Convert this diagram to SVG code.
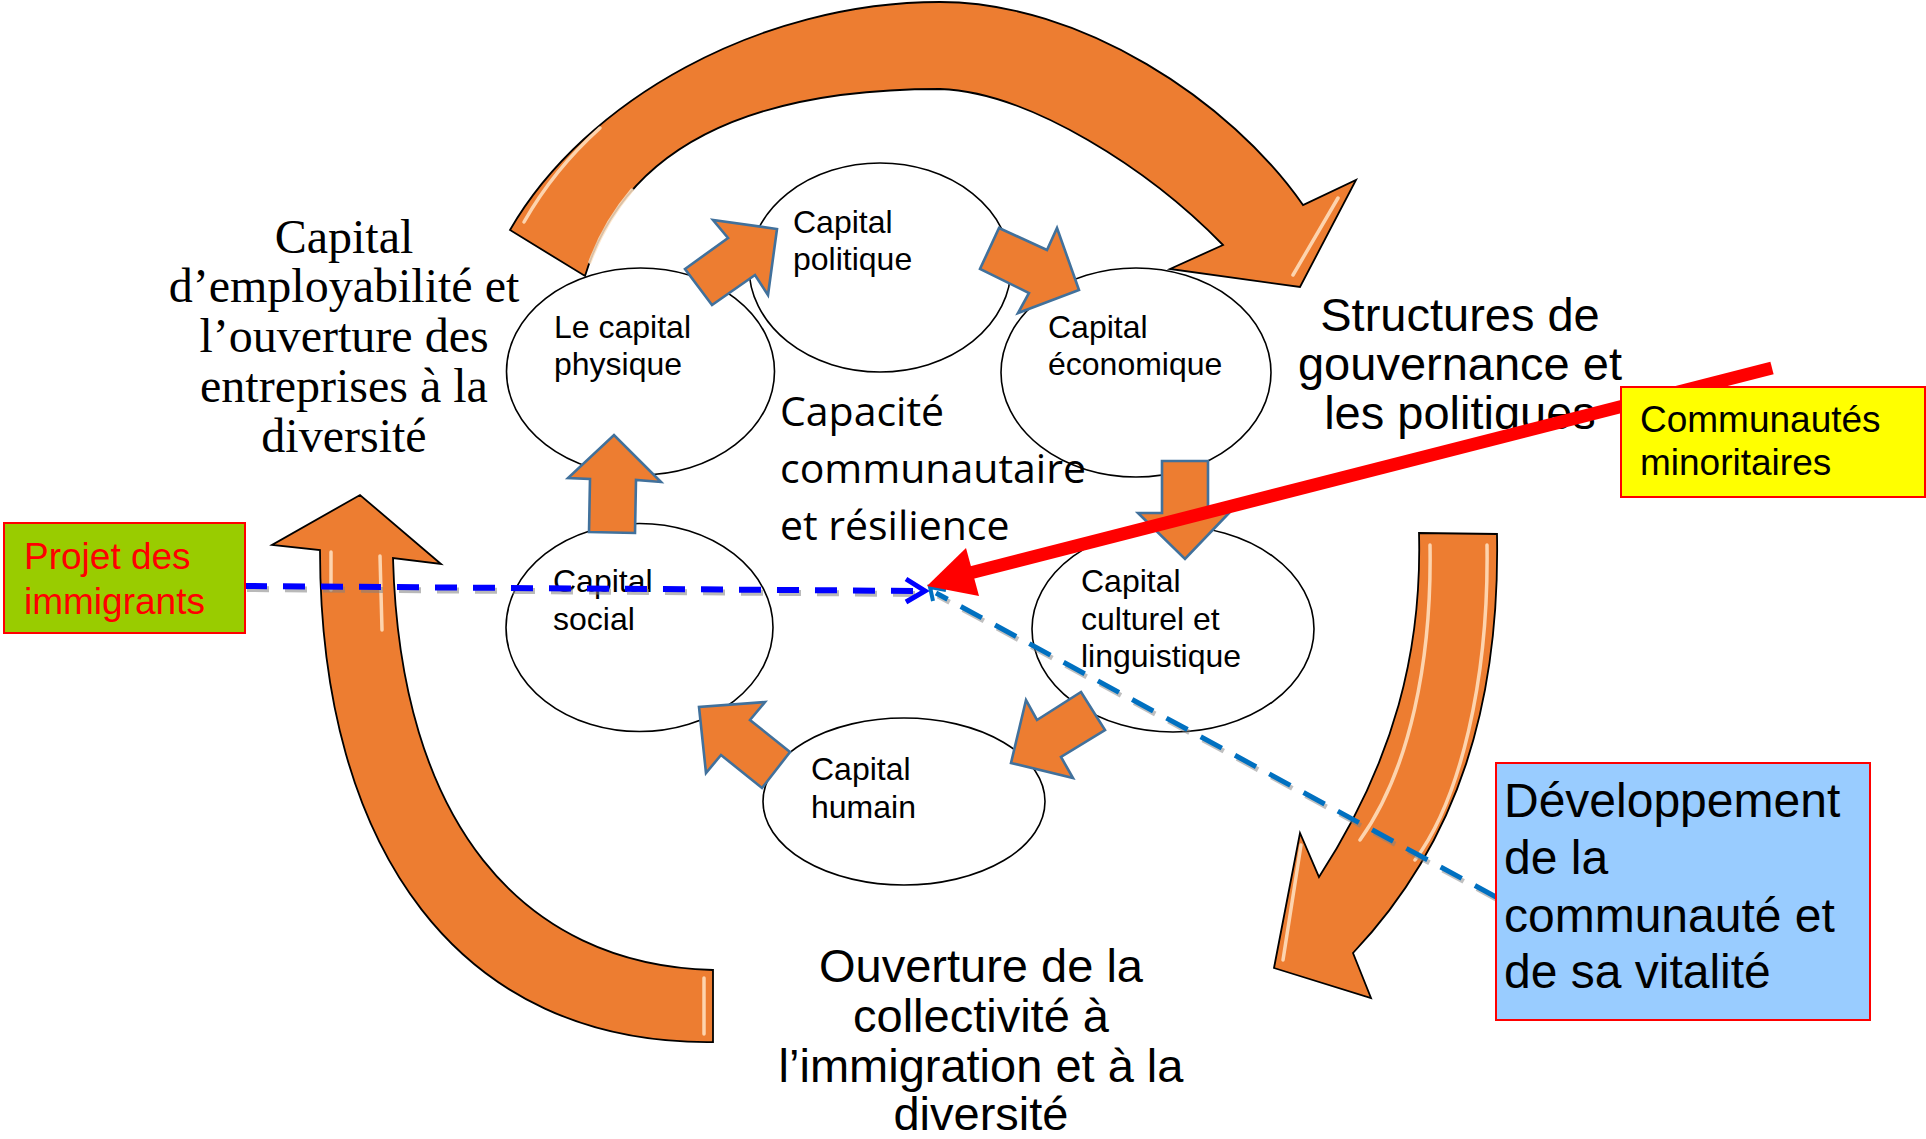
<svg xmlns="http://www.w3.org/2000/svg" width="1926" height="1139" viewBox="0 0 1926 1139">
<style>
.big{fill:#ED7D31;stroke:#000;stroke-width:1.8;stroke-linejoin:miter}
.hl{fill:none;stroke:#FFE3C4;stroke-width:3.5;stroke-linecap:round;opacity:.85}
.sm{fill:#ED7D31;stroke:#41719C;stroke-width:2.6;stroke-linejoin:miter}
.ell{fill:none;stroke:#000;stroke-width:1.6}
.et{font-family:"Liberation Sans",Arial,sans-serif;font-size:32px;fill:#000}
.mid{font-family:"Open Sans","Noto Sans",sans-serif;font-size:41px;fill:#000}
.ser{font-family:"Liberation Serif","Times New Roman",serif;font-size:48px;fill:#000;text-anchor:middle}
.lab{font-family:"Liberation Sans",Arial,sans-serif;font-size:47px;fill:#000;text-anchor:middle}
.box{font-family:"Liberation Sans",Arial,sans-serif}
</style>
<rect width="1926" height="1139" fill="#fff"/>

<g id="cycle-arrows">
  <g id="arrow-top">
    <path class="big" d="M 510,230 C 585,100 760,2 940,2 C 1080,2 1230,100 1303,205 L 1356,180 L 1300,287 L 1170,269 L 1223,245 C 1150,170 1030,92 940,89 C 780,89 630,130 585,276 Z"/>
    <path class="hl" d="M 524,222 C 545,185 570,155 600,128"/>
    <path class="hl" d="M 590,262 C 600,235 615,210 632,190"/>
    <path class="hl" d="M 1293,275 L 1338,198"/>
  </g>
  <g id="arrow-right">
    <path class="big" d="M 1419,533 L 1497,534 C 1500,700 1460,840 1353,953 L 1371,998 L 1274,968 L 1300,833 L 1319,877 C 1395,760 1422,650 1419,533 Z"/>
    <path class="hl" d="M 1430,545 C 1432,660 1410,770 1360,840"/>
    <path class="hl" d="M 1487,545 C 1489,680 1460,800 1415,860"/>
    <path class="hl" d="M 1301,845 L 1283,960"/>
  </g>
  <g id="arrow-left">
    <path class="big" d="M 713,970 C 520,965 400,820 393,558 L 441,564 L 360,495 L 272,545 L 320,550 C 320,850 460,1045 713,1042 Z"/>
    <path class="hl" d="M 331,552 L 331,590"/>
    <path class="hl" d="M 380,556 L 382,630"/>
    <path class="hl" d="M 704,978 L 704,1034"/>
  </g>
</g>

<g id="node-politique">
  <ellipse class="ell" cx="880" cy="267.5" rx="131" ry="104.5"/>
  <text class="et" x="793" y="233">Capital</text>
  <text class="et" x="793" y="270">politique</text>
</g>
<g id="node-physique">
  <ellipse class="ell" cx="640.5" cy="371.5" rx="134" ry="103.5"/>
  <text class="et" x="554" y="338">Le capital</text>
  <text class="et" x="554" y="375">physique</text>
</g>
<g id="node-economique">
  <ellipse class="ell" cx="1136" cy="372.5" rx="135" ry="104.5"/>
  <text class="et" x="1048" y="338">Capital</text>
  <text class="et" x="1048" y="375">économique</text>
</g>
<g id="node-social">
  <ellipse class="ell" cx="639.5" cy="627.5" rx="133.5" ry="104"/>
  <text class="et" x="553" y="592">Capital</text>
  <text class="et" x="553" y="630">social</text>
</g>
<g id="node-culturel">
  <ellipse class="ell" cx="1173" cy="629" rx="141" ry="103"/>
  <text class="et" x="1081" y="592">Capital</text>
  <text class="et" x="1081" y="630">culturel et</text>
  <text class="et" x="1081" y="667">linguistique</text>
</g>
<g id="node-humain">
  <ellipse class="ell" cx="904" cy="801.5" rx="141" ry="83.5"/>
  <text class="et" x="811" y="780">Capital</text>
  <text class="et" x="811" y="818">humain</text>
</g>

<g id="inner-arrows">
  <path class="sm" d="M 685,269 L 728,238 L 713,220 L 777,229 L 768,295 L 755,275 L 712,305 Z"/>
  <path class="sm" d="M 999,228 L 1047,250 L 1057,228 L 1079,290 L 1018,313 L 1029,293 L 980,269 Z"/>
  <path class="sm" d="M 1162,461 L 1208,461 L 1208,513 L 1229,513 L 1185,559 L 1138,513 L 1162,513 Z"/>
  <path class="sm" d="M 1081,692 L 1105,730 L 1061,757 L 1073,778 L 1011,763 L 1026,700 L 1037,720 Z"/>
  <path class="sm" d="M 790,752 L 750,720 L 765,702 L 699,707 L 706,773 L 721,755 L 762,788 Z"/>
  <path class="sm" d="M 589,532 L 590,479 L 568,478 L 614,435 L 661,482 L 636,480 L 635,533 Z"/>
</g>

<g id="center-label">
  <text class="mid" x="780" y="426">Capacité</text>
  <text class="mid" x="780" y="483">communautaire</text>
  <text class="mid" x="780" y="540">et résilience</text>
</g>

<g id="label-employabilite">
  <text class="ser" x="344" y="253">Capital</text>
  <text class="ser" x="344" y="302">d’employabilité et</text>
  <text class="ser" x="344" y="352">l’ouverture des</text>
  <text class="ser" x="344" y="402">entreprises à la</text>
  <text class="ser" x="344" y="452">diversité</text>
</g>

<g id="label-structures">
  <text class="lab" x="1460" y="331">Structures de</text>
  <text class="lab" x="1460" y="380">gouvernance et</text>
  <text class="lab" x="1460" y="429">les politiques</text>
</g>

<g id="label-ouverture">
  <text class="lab" x="981" y="982">Ouverture de la</text>
  <text class="lab" x="981" y="1032">collectivité à</text>
  <text class="lab" x="981" y="1082">l’immigration et à la</text>
  <text class="lab" x="981" y="1130">diversité</text>
</g>

<g id="connectors">
  <g id="dash-immigrants" fill="none">
    <path d="M 247,589 L 927,594" stroke="#7f7f7f" stroke-opacity=".55" stroke-width="6" stroke-dasharray="22 16"/>
    <path d="M 245,586 L 922,591" stroke="#0000FF" stroke-width="6" stroke-dasharray="22 16"/>
    <path d="M 906,579 L 925,591 L 906,602" stroke="#0000FF" stroke-width="5"/>
  </g>
  <g id="dash-developpement" fill="none">
    <path d="M 1496,897 L 936,593" stroke="#7f7f7f" stroke-opacity=".5" stroke-width="5" stroke-dasharray="24 15" transform="translate(2,3)"/>
    <path d="M 1496,897 L 936,593" stroke="#0070C0" stroke-width="5" stroke-dasharray="24 15"/>
    <path d="M 933,601 L 930,587 L 946,590" stroke="#0070C0" stroke-width="4"/>
  </g>
  <g id="red-arrow">
    <path d="M 1772,368 L 970,573" stroke="#FF0000" stroke-width="13" fill="none"/>
    <polygon points="927,586 966,548 979,596" fill="#FF0000"/>
  </g>
</g>

<g id="box-projet">
  <rect x="4" y="523" width="241" height="110" fill="#99CC00" stroke="#FF0000" stroke-width="2"/>
  <text class="box" x="24" y="569" font-size="37" fill="#FF0000">Projet des</text>
  <text class="box" x="24" y="614" font-size="37" fill="#FF0000">immigrants</text>
</g>

<g id="box-communautes">
  <rect x="1621" y="387" width="304" height="110" fill="#FFFF00" stroke="#FF0000" stroke-width="2"/>
  <text class="box" x="1640" y="432" font-size="37" fill="#000">Communautés</text>
  <text class="box" x="1640" y="475" font-size="37" fill="#000">minoritaires</text>
</g>

<g id="box-developpement">
  <rect x="1496" y="763" width="374" height="257" fill="#99CCFF" stroke="#FF0000" stroke-width="2"/>
  <text class="box" x="1504" y="817" font-size="48" fill="#000">Développement</text>
  <text class="box" x="1504" y="874" font-size="48" fill="#000">de la</text>
  <text class="box" x="1504" y="932" font-size="48" fill="#000">communauté et</text>
  <text class="box" x="1504" y="988" font-size="48" fill="#000">de sa vitalité</text>
</g>
</svg>
